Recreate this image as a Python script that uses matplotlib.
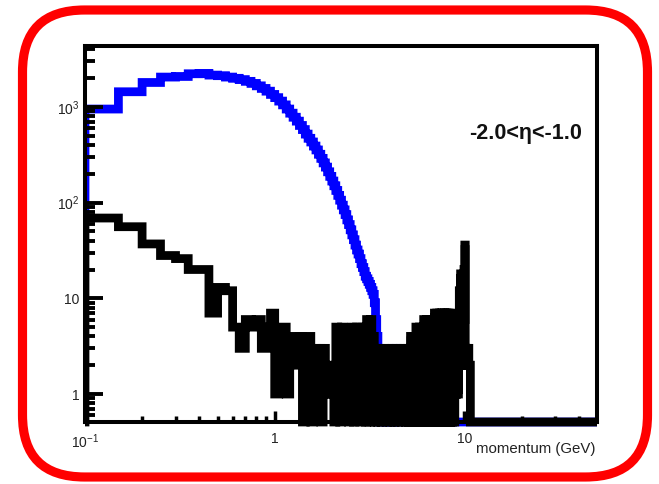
import numpy as np
import matplotlib
matplotlib.use("Agg")
import matplotlib.pyplot as plt
from matplotlib.patches import FancyBboxPatch
from matplotlib.ticker import FixedLocator, FixedFormatter, NullFormatter
from matplotlib.transforms import Bbox, TransformedBbox

plt.rcParams['font.family'] = ['Liberation Sans', 'DejaVu Sans']
plt.rcParams['mathtext.fontset'] = 'custom'
plt.rcParams['mathtext.rm'] = 'Liberation Sans'
plt.rcParams['mathtext.it'] = 'Liberation Sans:italic'
plt.rcParams['mathtext.bf'] = 'Liberation Sans:bold'

# ---------------- data ----------------
bin_width = 0.05
first_edge = 0.05
last_edge = 50.0

# blue histogram, bins of 0.05 GeV starting at 0.05 GeV
blue_counts = [
    80, 950, 1440, 1800, 2050, 2080, 2220, 2240, 2150, 2120,      # 0.05-0.55
    2050, 1990, 1930, 1850, 1760, 1660, 1560, 1460, 1350, 1250,   # 0.55-1.05
    1150, 1050, 950, 860, 780, 710, 640, 580, 520, 470,           # 1.05-1.55
    430, 390, 355, 320, 290, 260, 235, 210, 188, 168,             # 1.55-2.05
    150, 134, 119, 106, 94, 84, 75, 66, 59, 52,                   # 2.05-2.55
    46, 41, 36, 32, 29, 26, 23, 21, 19, 17,                       # 2.55-3.05
    16, 15, 14, 13, 12, 11, 9, 6, 4, 3,                           # 3.05-3.55
    2, 0, 0, 0, 0, 1, 0, 0, 0, 0,                                 # 3.55-4.05
    0, 0, 0, 0, 0, 3,                                             # 4.05-4.35
]

# black histogram, same binning
black_counts = [
    0, 69, 56, 37, 28, 26, 20, 20, 7, 13,      # 0.05-0.55
    12, 5, 3, 6, 5, 6, 3, 5, 7, 1,             # 0.55-1.05
    5, 5, 1, 4, 4, 2, 4, 0, 4, 4,              # 1.05-1.55
    0, 3, 1, 3, 0, 3, 1, 1, 2, 1,              # 1.55-2.05
    0, 5, 2, 0, 5, 3, 1, 3, 0, 3,              # 2.05-2.55
    5, 0, 2, 5, 1, 0, 4, 5, 2, 0,              # 2.55-3.05
    6, 3, 0, 6, 2, 4, 0, 3, 1, 0,              # 3.05-3.55
    3, 1, 0, 2, 3, 1, 1, 0, 3, 2,              # 3.55-4.05
    0, 1, 3, 2, 0, 1, 2, 3, 0, 2,              # 4.05-4.55
    1, 3, 0, 2, 1, 3, 1, 0, 2, 3,              # 4.55-5.05
    0, 1, 2, 4, 0, 3, 1, 4, 0, 2,              # 5.05-5.55
    5, 1, 0, 3, 2, 5, 0, 1, 4, 2,              # 5.55-6.05
    0, 6, 2, 1, 0, 3, 6, 2, 0, 4,              # 6.05-6.55
    6, 1, 0, 2, 6, 3, 0, 1, 7, 2,              # 6.55-7.05
    0, 3, 7, 1, 2, 0, 4, 7, 1, 0,              # 7.05-7.55
    2, 7, 3, 0, 1, 5, 7, 2, 0, 3,              # 7.55-8.05
    7, 1, 0, 4, 7, 2, 3, 0, 5, 7,              # 8.05-8.55
    1, 0, 3, 6, 2, 1, 0, 4, 6, 1,              # 8.55-9.05
    1, 3, 6, 2, 1, 4, 2, 12, 3, 2,             # 9.05-9.55
    18, 4, 2, 8, 3, 14, 5, 2, 20, 6,           # 9.55-10.05
    36, 3, 2, 3, 2, 2, 3, 2, 2, 3,             # 10.05-10.55
    2, 2, 2, 2,                                # 10.55-10.75
]

x_range = (0.1, 50.0)
y_range = (0.51, 4330.0)
x_ticks = [0.1, 1, 10]
x_ticklabels = ["$10^{-1}$", "1", "10"]
x_minor = [0.2, 0.3, 0.4, 0.5, 0.6, 0.7, 0.8, 0.9, 2, 3, 4, 5, 6, 7, 8, 9, 20, 30, 40]
y_ticks = [1, 10, 100, 1000]
y_ticklabels = ["1", "10", "$10^{2}$", "$10^{3}$"]
y_minor = [0.6, 0.7, 0.8, 0.9, 2, 3, 4, 5, 6, 7, 8, 9, 20, 30, 40, 50, 60, 70, 80, 90,
           200, 300, 400, 500, 600, 700, 800, 900, 2000, 3000, 4000]
label_text = "-2.0<\u03b7<-1.0"
x_title = "momentum (GeV)"

# ---------------- figure ----------------
W, H = 659, 484
fig = plt.figure(figsize=(W / 100, H / 100), dpi=100)

# red rounded frame
bg = fig.add_axes([0, 0, 1, 1], zorder=0)
bg.set_xlim(0, W)
bg.set_ylim(H, 0)
bg.axis('off')
bg.add_patch(FancyBboxPatch((22.5, 10), 625, 467,
                            boxstyle="round,pad=0,rounding_size=62",
                            fill=False, ec="#ff0000", lw=6.6))

L, R, T, B = 85, 597, 46, 422
ax = fig.add_axes([L / W, 1 - B / H, (R - L) / W, (B - T) / H], zorder=1)
ax.set_xscale('log')
ax.set_yscale('log')
ax.set_xlim(*x_range)
ax.set_ylim(*y_range)


def full_hist(counts):
    n = int(round((last_edge - first_edge) / bin_width))
    vals = np.zeros(n)
    vals[:len(counts)] = counts
    edges = first_edge + bin_width * np.arange(n + 1)
    vals = np.where(vals > 0, vals, y_range[0])
    return edges, vals


clipbox = TransformedBbox(Bbox([[0, -0.03], [1.0, 1.0]]), ax.transAxes)
for counts, col in ((blue_counts, "#0000ff"), (black_counts, "#000000")):
    e, v = full_hist(counts)
    sp = ax.stairs(v, e, baseline=None, fill=False, color=col, lw=6.3)
    sp.set_joinstyle('miter')
    sp.set_capstyle('butt')
    sp.set_clip_path(None)
    sp.set_clip_box(clipbox)

ax.set_axisbelow(False)
for s in ax.spines.values():
    s.set_linewidth(2.9)
    s.set_zorder(5)

ax.xaxis.set_major_locator(FixedLocator(x_ticks))
ax.xaxis.set_major_formatter(FixedFormatter(x_ticklabels))
ax.xaxis.set_minor_locator(FixedLocator(x_minor))
ax.xaxis.set_minor_formatter(NullFormatter())
ax.yaxis.set_major_locator(FixedLocator(y_ticks))
ax.yaxis.set_major_formatter(FixedFormatter(y_ticklabels))
ax.yaxis.set_minor_locator(FixedLocator(y_minor))
ax.yaxis.set_minor_formatter(NullFormatter())

ax.tick_params(axis='both', which='both', direction='in', top=False, right=False,
               colors='black', labelcolor='#222222', labelsize=10)
ax.tick_params(axis='y', which='major', length=13, width=2.8, pad=4)
ax.tick_params(axis='y', which='minor', length=7.5, width=2.8)
ax.tick_params(axis='x', which='major', length=8, width=2.5, pad=7.5)
ax.tick_params(axis='x', which='minor', length=4, width=2.5)

ax.text(0.971, 0.766, label_text, transform=ax.transAxes, ha='right', va='center',
        fontsize=15.5, fontweight='bold', color='#111111')

ax.set_xlabel(x_title, fontsize=10.8, color='#222222')
ax.xaxis.set_label_coords((595 - L) / (R - L), (B - 453) / (B - T))
ax.xaxis.label.set_ha('right')
ax.xaxis.label.set_va('baseline')

fig.savefig("out.png", dpi=100)
